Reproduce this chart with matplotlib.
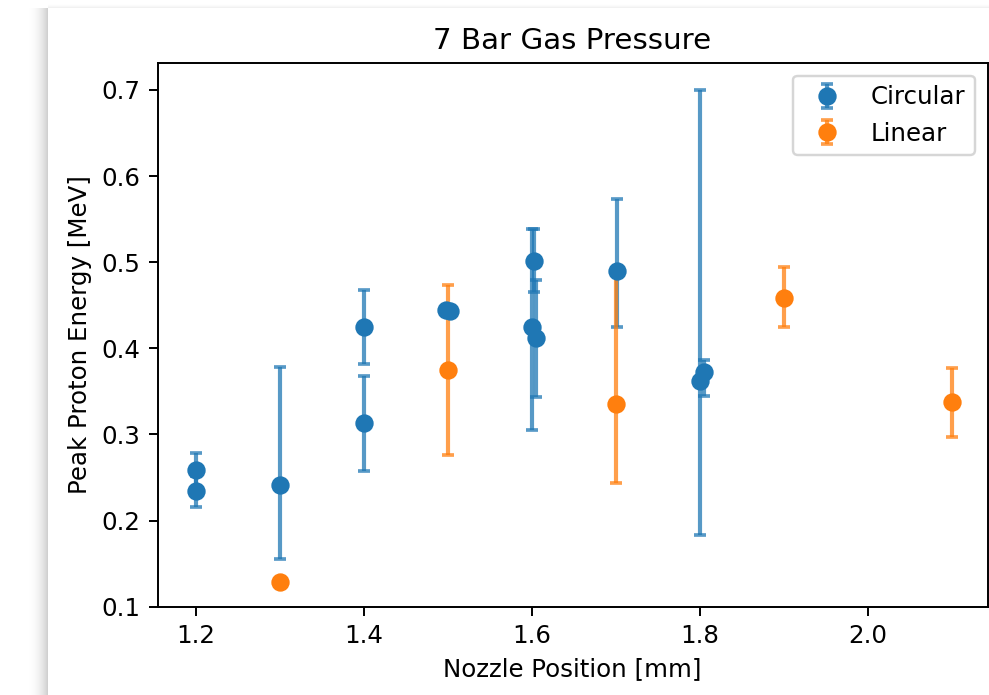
import numpy as np
import matplotlib
matplotlib.use("Agg")
import matplotlib.pyplot as plt

# Peak proton energy vs nozzle position at 7 bar, two polarisations
circ_x = [1.2, 1.2, 1.3, 1.4, 1.4, 1.498, 1.503, 1.603, 1.600, 1.605, 1.701, 1.800, 1.805]
circ_y = [0.259, 0.234, 0.241, 0.425, 0.313, 0.444, 0.443, 0.502, 0.425, 0.4115, 0.490, 0.362, 0.372]
circ_err_lo = [0.020, 0.018, 0.086, 0.043, 0.055, 0.003, 0.003, 0.037, 0.120, 0.068, 0.065, 0.179, 0.027]
circ_err_hi = [0.020, 0.018, 0.137, 0.043, 0.055, 0.003, 0.003, 0.037, 0.114, 0.068, 0.083, 0.338, 0.015]

lin_x = [1.3, 1.5, 1.7, 1.9, 2.1]
lin_y = [0.129, 0.375, 0.335, 0.458, 0.3375]
lin_err_lo = [0.004, 0.099, 0.091, 0.033, 0.040]
lin_err_hi = [0.004, 0.099, 0.155, 0.037, 0.040]

W, H, DPI = 989, 695, 176
fig = plt.figure(figsize=(W / DPI, H / DPI), dpi=DPI, facecolor="white")

# page background with a soft drop shadow along the left and top edges of the card
bg_img = np.ones((H, W, 3))
card_left, card_top = 48, 8
for x in range(28, card_left):
    t = (x - 28) / (card_left - 28)
    bg_img[card_top:, x, :] = 1.0 - 0.20 * t ** 2
for y in range(3, card_top):
    t = (y - 3) / (card_top - 3)
    bg_img[y, card_left:, :] = np.minimum(bg_img[y, card_left:, :], 1.0 - 0.08 * t ** 2)
bg = fig.add_axes([0, 0, 1, 1], zorder=-1)
bg.imshow(bg_img, aspect="auto", interpolation="bilinear")
bg.axis("off")

# main axes placed in pixel terms
left_px, right_px, top_px, bottom_px = 157.7, 987.5, 63.3, 606.7
ax = fig.add_axes([left_px / W, 1 - bottom_px / H,
                   (right_px - left_px) / W, (bottom_px - top_px) / H])

ebs = []
ebs.append(ax.errorbar(circ_x, circ_y, yerr=[circ_err_lo, circ_err_hi],
                       fmt="o", ms=6.5, elinewidth=1.7, capsize=2.5,
                       capthick=1.5, label="Circular"))
ebs.append(ax.errorbar(lin_x, lin_y, yerr=[lin_err_lo, lin_err_hi],
                       fmt="o", ms=6.5, elinewidth=1.7, capsize=2.5,
                       capthick=1.5, label="Linear"))
for eb in ebs:
    for cap in eb[1]:
        cap.set_alpha(0.75)
    for col in eb[2]:
        col.set_alpha(0.75)

ax.set_xlim(1.155, 2.142)
ax.set_ylim(0.1, 0.731)
ax.set_xticks([1.2, 1.4, 1.6, 1.8, 2.0])
ax.set_yticks([0.1, 0.2, 0.3, 0.4, 0.5, 0.6, 0.7])

ax.set_title("7 Bar Gas Pressure", fontsize=12)
ax.set_xlabel("Nozzle Position [mm]")
ax.set_ylabel("Peak Proton Energy [MeV]")
ax.legend(loc="upper right")

fig.savefig("out.png", dpi=DPI, facecolor="white")
